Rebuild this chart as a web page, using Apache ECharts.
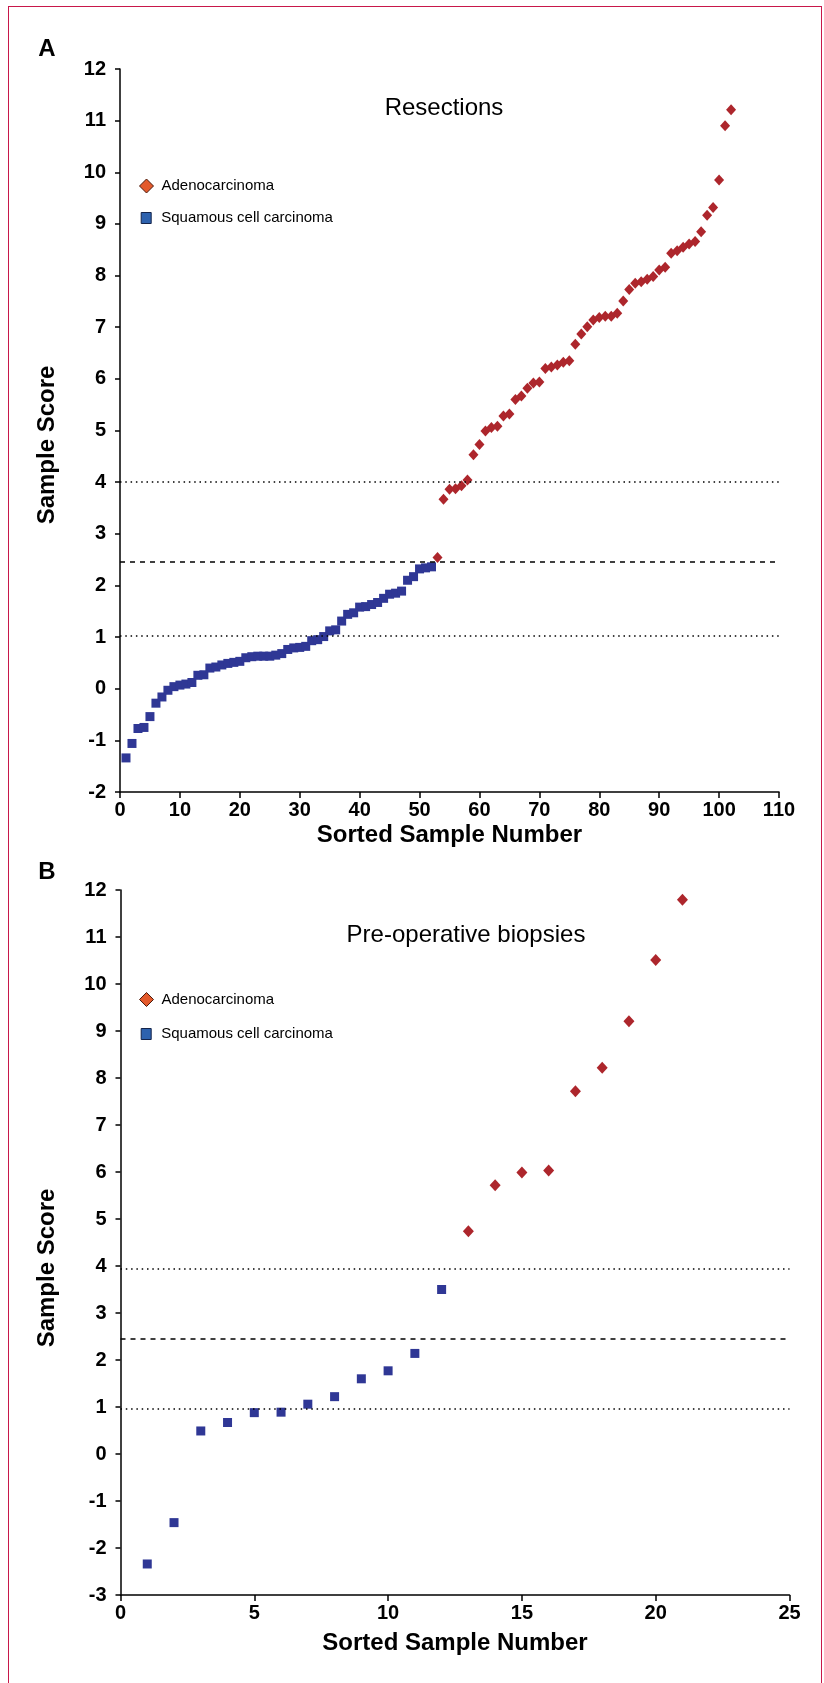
<!DOCTYPE html>
<html>
<head>
<meta charset="utf-8">
<script src="https://cdn.jsdelivr.net/npm/echarts@6/dist/echarts.min.js"></script>
<style>
  html, body { margin: 0; padding: 0; background: #fff; }
  #frame { position: absolute; left: 8px; top: 6px; width: 812px; height: 1700px; border: 1px solid #c8174a; border-bottom: none; }
  #chart { position: absolute; left: 0; top: 0; width: 824px; height: 1683px; }
</style>
</head>
<body>
<div id="frame"></div>
<div id="chart"></div>
<script>
"use strict";

// panel A - resections (sorted sample scores)
var resectSquamous = [
    -1.34, -1.06, -0.77, -0.75, -0.54, -0.28, -0.16, -0.03, 0.04, 0.07,
    0.09, 0.12, 0.26, 0.27, 0.40, 0.42, 0.46, 0.49, 0.51, 0.53,
    0.60, 0.62, 0.63, 0.63, 0.63, 0.65, 0.68, 0.76, 0.79, 0.80,
    0.82, 0.93, 0.95, 1.01, 1.12, 1.14, 1.31, 1.44, 1.47, 1.58,
    1.59, 1.63, 1.67, 1.75, 1.83, 1.85, 1.89, 2.10, 2.17, 2.32,
    2.34, 2.36
];
var resectAdeno = [
    2.54, 3.67, 3.86, 3.87, 3.93, 4.04, 4.53, 4.73, 4.99, 5.06,
    5.08, 5.28, 5.32, 5.60, 5.67, 5.82, 5.92, 5.94, 6.20, 6.23,
    6.27, 6.32, 6.35, 6.67, 6.87, 7.01, 7.14, 7.19, 7.21, 7.21,
    7.27, 7.51, 7.73, 7.85, 7.88, 7.93, 7.98, 8.11, 8.16, 8.43,
    8.48, 8.55, 8.61, 8.66, 8.85, 9.17, 9.32, 9.85, 10.90, 11.21
];

// panel B - pre-operative biopsies
var biopsySquamous = [-2.34, -1.46, 0.49, 0.67, 0.88, 0.89, 1.06, 1.22, 1.60, 1.77, 2.14, 3.50];
var biopsyAdeno = [4.74, 5.72, 5.99, 6.03, 7.72, 8.22, 9.21, 10.51, 11.79];

// cut-off lines: upper dotted, middle dashed, lower dotted
var cutoffsA = [4.0, 2.46, 1.03];
var cutoffsB = [3.95, 2.45, 0.97];

// axis ranges [min, max, interval]
var xRangeA = [0, 110, 10];
var yRangeA = [-2, 12, 1];
var xRangeB = [0, 25, 5];
var yRangeB = [-3, 12, 1];

var FONT = '"Liberation Sans", Arial, Helvetica, sans-serif';
var SQ_COLOR = '#2f3795';
var AD_COLOR = '#ad262c';

function toPoints(values, offset) {
    return values.map(function (v, i) { return [offset + i + 1, v]; });
}

function cutLines(c) {
    var dotted = { color: '#000', width: 1.5, type: [1.5, 3.8] };
    var dashed = { color: '#000', width: 1.5, type: [5, 5] };
    return {
        silent: true,
        symbol: ['none', 'none'],
        label: { show: false },
        emphasis: { disabled: true },
        data: [
            { yAxis: c[0], lineStyle: dotted },
            { yAxis: c[1], lineStyle: dashed },
            { yAxis: c[2], lineStyle: dotted }
        ]
    };
}

function xAxisOf(idx, r, gap) {
    return {
        gridIndex: idx, type: 'value', min: r[0], max: r[1], interval: r[2],
        axisLine: { onZero: false, lineStyle: { color: '#000', width: 1.5 } },
        axisTick: { show: true, length: 6, lineStyle: { color: '#000', width: 1.5 } },
        axisLabel: { margin: 8, color: '#000', fontSize: 20, fontWeight: 'bold', fontFamily: FONT },
        splitLine: { show: false },
        name: 'Sorted Sample Number', nameLocation: 'middle', nameGap: gap,
        nameTextStyle: { color: '#000', fontSize: 24, fontWeight: 'bold', fontFamily: FONT }
    };
}

function yAxisOf(idx, r) {
    return {
        gridIndex: idx, type: 'value', min: r[0], max: r[1], interval: r[2],
        axisLine: { show: true, onZero: false, lineStyle: { color: '#000', width: 1.5 } },
        axisTick: { show: true, length: 5, lineStyle: { color: '#000', width: 1.5 } },
        axisLabel: { margin: 14, color: '#000', fontSize: 20, fontWeight: 'bold', fontFamily: FONT },
        splitLine: { show: false }
    };
}

function legendOf(name, icon, fill, border, size, left, top, pad) {
    return {
        left: left, top: top, padding: 0, selectedMode: false,
        itemWidth: size[0], itemHeight: size[1],
        data: [{ name: name, icon: icon, itemStyle: { color: fill, borderColor: border, borderWidth: 1, opacity: 1 } }],
        textStyle: { color: '#000', fontSize: 15, fontFamily: FONT, padding: [0, 0, 0, pad] }
    };
}

function label(text, x, y, font, rot) {
    return {
        type: 'text', x: x, y: y, rotation: rot || 0,
        style: {
            text: text, font: font, fill: '#000',
            textAlign: 'center', textVerticalAlign: 'middle', align: 'center', verticalAlign: 'middle'
        }
    };
}

var chart = echarts.init(document.getElementById('chart'));

var option = {
    backgroundColor: 'transparent',
    animation: false,
    grid: [
        { left: 120, top: 69, width: 659, height: 723 },
        { left: 120.5, top: 890, width: 669, height: 705 }
    ],
    xAxis: [xAxisOf(0, xRangeA, 31), xAxisOf(1, xRangeB, 36)],
    yAxis: [yAxisOf(0, yRangeA), yAxisOf(1, yRangeB)],
    legend: [
        legendOf('Adenocarcinoma', 'diamond', '#e35a2c', '#4a1a0c', [14, 14], 139, 178.5, 3),
        legendOf('Squamous cell carcinoma', 'rect', '#2e62ae', '#14244a', [10, 11], 140.7, 210.5, 5),
        legendOf('Adenocarcinoma', 'diamond', '#e35a2c', '#4a1a0c', [14, 14], 139, 992, 3),
        legendOf('Squamous cell carcinoma', 'rect', '#2e62ae', '#14244a', [10, 11], 140.7, 1026.5, 5)
    ],
    graphic: [
        label('A', 47, 49, 'bold 24px ' + FONT),
        label('B', 47, 872, 'bold 24px ' + FONT),
        label('Resections', 444, 108, '24px ' + FONT),
        label('Pre-operative biopsies', 466, 935, '24px ' + FONT),
        label('Sample Score', 47, 445, 'bold 24px ' + FONT, Math.PI / 2),
        label('Sample Score', 47, 1268, 'bold 24px ' + FONT, Math.PI / 2)
    ],
    series: [
        {
            name: 'Squamous cell carcinoma', type: 'scatter', xAxisIndex: 0, yAxisIndex: 0,
            symbol: 'rect', symbolSize: [9, 9], itemStyle: { color: SQ_COLOR, opacity: 1 },
            data: toPoints(resectSquamous, 0),
            markLine: cutLines(cutoffsA)
        },
        {
            name: 'Adenocarcinoma', type: 'scatter', xAxisIndex: 0, yAxisIndex: 0,
            symbol: 'diamond', symbolSize: [10, 11], itemStyle: { color: AD_COLOR, opacity: 1 },
            data: toPoints(resectAdeno, resectSquamous.length)
        },
        {
            name: 'Squamous cell carcinoma', type: 'scatter', xAxisIndex: 1, yAxisIndex: 1,
            symbol: 'rect', symbolSize: [9, 9], itemStyle: { color: SQ_COLOR, opacity: 1 },
            data: toPoints(biopsySquamous, 0),
            markLine: cutLines(cutoffsB)
        },
        {
            name: 'Adenocarcinoma', type: 'scatter', xAxisIndex: 1, yAxisIndex: 1,
            symbol: 'diamond', symbolSize: [11, 12], itemStyle: { color: AD_COLOR, opacity: 1 },
            data: toPoints(biopsyAdeno, biopsySquamous.length)
        }
    ]
};

chart.setOption(option);
</script>
</body>
</html>
